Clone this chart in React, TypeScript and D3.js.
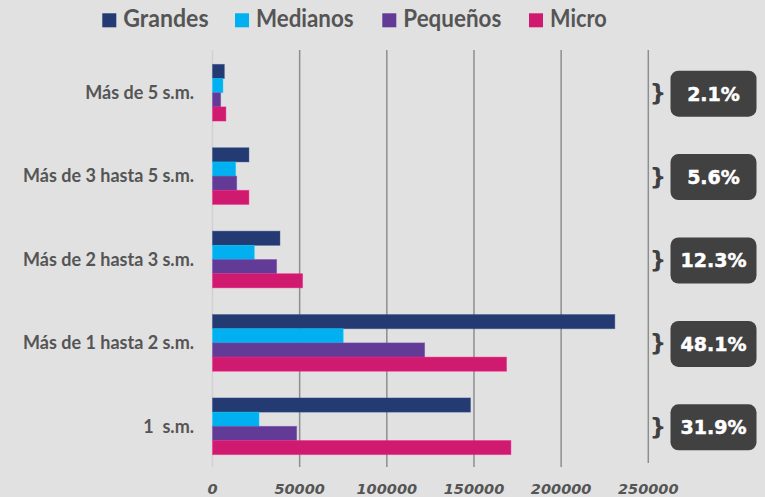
import React, { useEffect, useRef } from 'react';
import * as d3 from 'd3';

const categories = ['Más de 5 s.m.', 'Más de 3 hasta 5 s.m.', 'Más de 2 hasta 3 s.m.', 'Más de 1 hasta 2 s.m.', '1  s.m.'];
const seriesNames = ['Grandes', 'Medianos', 'Pequeños', 'Micro'];
const seriesColors = ['#233b72', '#00b0f0', '#623b96', '#cf1a6f'];
const grandes = [6800, 20900, 38700, 230800, 148000];
const medianos = [6000, 13300, 24000, 75000, 26700];
const pequenos = [4700, 13900, 36800, 121700, 48300];
const micro = [7700, 20900, 51700, 168700, 171200];
const shares = ['2.1%', '5.6%', '12.3%', '48.1%', '31.9%'];
const xTicks = [0, 50000, 100000, 150000, 200000, 250000];

const W = 765;
const H = 497;

const App: React.FC = () => {
  const svgRef = useRef<SVGSVGElement>(null);

  useEffect(() => {
    document.body.style.margin = '0';
    if (!svgRef.current) return;
    const root = d3.select(svgRef.current);
    root.selectAll('*').remove();
    root.attr('width', W).attr('height', H);

    root.append('rect').attr('width', W).attr('height', H).attr('fill', '#e1e1e1');

    const values = [grandes, medianos, pequenos, micro];

    const x = d3.scaleLinear().domain([0, 250000]).range([212.5, 648.3]);
    const y = d3.scaleBand<string>().domain(categories).range([51, 468]).paddingInner(0.32).paddingOuter(0.16);
    const ySub = d3.scaleBand<string>().domain(seriesNames).range([0, y.bandwidth()]);

    // gridlines
    root
      .append('g')
      .selectAll('line')
      .data(xTicks)
      .enter()
      .append('line')
      .attr('x1', d => x(d))
      .attr('x2', d => x(d))
      .attr('y1', 50)
      .attr('y2', d => (d === 250000 ? 463 : 467))
      .attr('stroke', d => (d === 0 ? '#d2d2d2' : '#8e8e8e'))
      .attr('stroke-width', 1.5);

    // bars
    const groups = root
      .append('g')
      .selectAll('g')
      .data(categories)
      .enter()
      .append('g')
      .attr('transform', d => `translate(0, ${y(d)})`);

    groups
      .selectAll('rect')
      .data((c, i) => seriesNames.map((s, j) => ({ s, j, v: values[j][i] })))
      .enter()
      .append('rect')
      .attr('x', x(0))
      .attr('y', d => ySub(d.s)!)
      .attr('width', d => x(d.v) - x(0))
      .attr('height', ySub.bandwidth())
      .attr('fill', d => seriesColors[d.j])
      .attr('stroke', d => d3.color(seriesColors[d.j])!.brighter(0.6).formatHex())
      .attr('stroke-opacity', 0.5)
      .attr('stroke-width', 0.8);

    // category labels
    root
      .append('g')
      .selectAll('text')
      .data(categories)
      .enter()
      .append('text')
      .attr('x', 194)
      .attr('y', d => y(d)! + y.bandwidth() / 2)
      .attr('dy', '0.35em')
      .attr('text-anchor', 'end')
      .attr('font-family', 'Lato, sans-serif')
      .attr('font-weight', 'bold')
      .attr('font-size', '18px')
      .attr('fill', '#555')
      .style('white-space', 'pre')
      .text(d => d);

    // x tick labels
    root
      .append('g')
      .selectAll('text')
      .data(xTicks)
      .enter()
      .append('text')
      .attr('x', d => x(d))
      .attr('y', 494)
      .attr('text-anchor', 'middle')
      .attr('font-family', 'DejaVu Sans, sans-serif')
      .attr('font-weight', 'bold')
      .attr('font-style', 'italic')
      .attr('font-size', '14.5px')
      .attr('fill', '#555')
      .text(d => String(d));

    // share boxes
    const boxes = root
      .append('g')
      .selectAll('g')
      .data(categories)
      .enter()
      .append('g')
      .attr('transform', d => `translate(0, ${y(d)! + y.bandwidth() / 2 + 1})`);

    boxes
      .append('text')
      .attr('x', 658)
      .attr('y', 0)
      .attr('dy', '0.33em')
      .attr('text-anchor', 'middle')
      .attr('font-family', 'DejaVu Sans, sans-serif')
      .attr('font-weight', 'bold')
      .attr('font-size', '23px')
      .attr('fill', '#404040')
      .text('}');

    boxes
      .append('rect')
      .attr('x', 670.5)
      .attr('y', -23)
      .attr('width', 86)
      .attr('height', 46)
      .attr('rx', 8)
      .attr('fill', '#414141');

    boxes
      .append('text')
      .attr('x', 713.5)
      .attr('y', 0)
      .attr('dy', '0.36em')
      .attr('text-anchor', 'middle')
      .attr('font-family', 'DejaVu Sans, sans-serif')
      .attr('font-weight', 'bold')
      .attr('font-size', '19px')
      .attr('fill', '#fff')
      .attr('stroke', '#fff')
      .attr('stroke-width', 0.5)
      .text((d, i) => shares[i]);

    // legend
    const legendX = [102.3, 235, 382.3, 529];
    const legendW = [85.3, 97.6, 98, 56.7];
    const legend = root
      .append('g')
      .selectAll('g')
      .data(seriesNames)
      .enter()
      .append('g')
      .attr('transform', (d, i) => `translate(${legendX[i]}, 0)`);

    legend
      .append('rect')
      .attr('x', 0)
      .attr('y', 13.3)
      .attr('width', 14)
      .attr('height', 14)
      .attr('fill', (d, i) => seriesColors[i]);

    legend
      .append('text')
      .attr('font-family', 'Lato, sans-serif')
      .attr('font-weight', 'bold')
      .attr('font-size', '24.5px')
      .attr('fill', '#555')
      .text(d => d)
      .each(function (d, i) {
        const len = (this as SVGTextElement).getComputedTextLength() || legendW[i];
        d3.select(this).attr('transform', `translate(21, 26.7) scale(${legendW[i] / len}, 1)`);
      });
  }, []);

  return <svg ref={svgRef} style={{ display: 'block' }} />;
};

export default App;
